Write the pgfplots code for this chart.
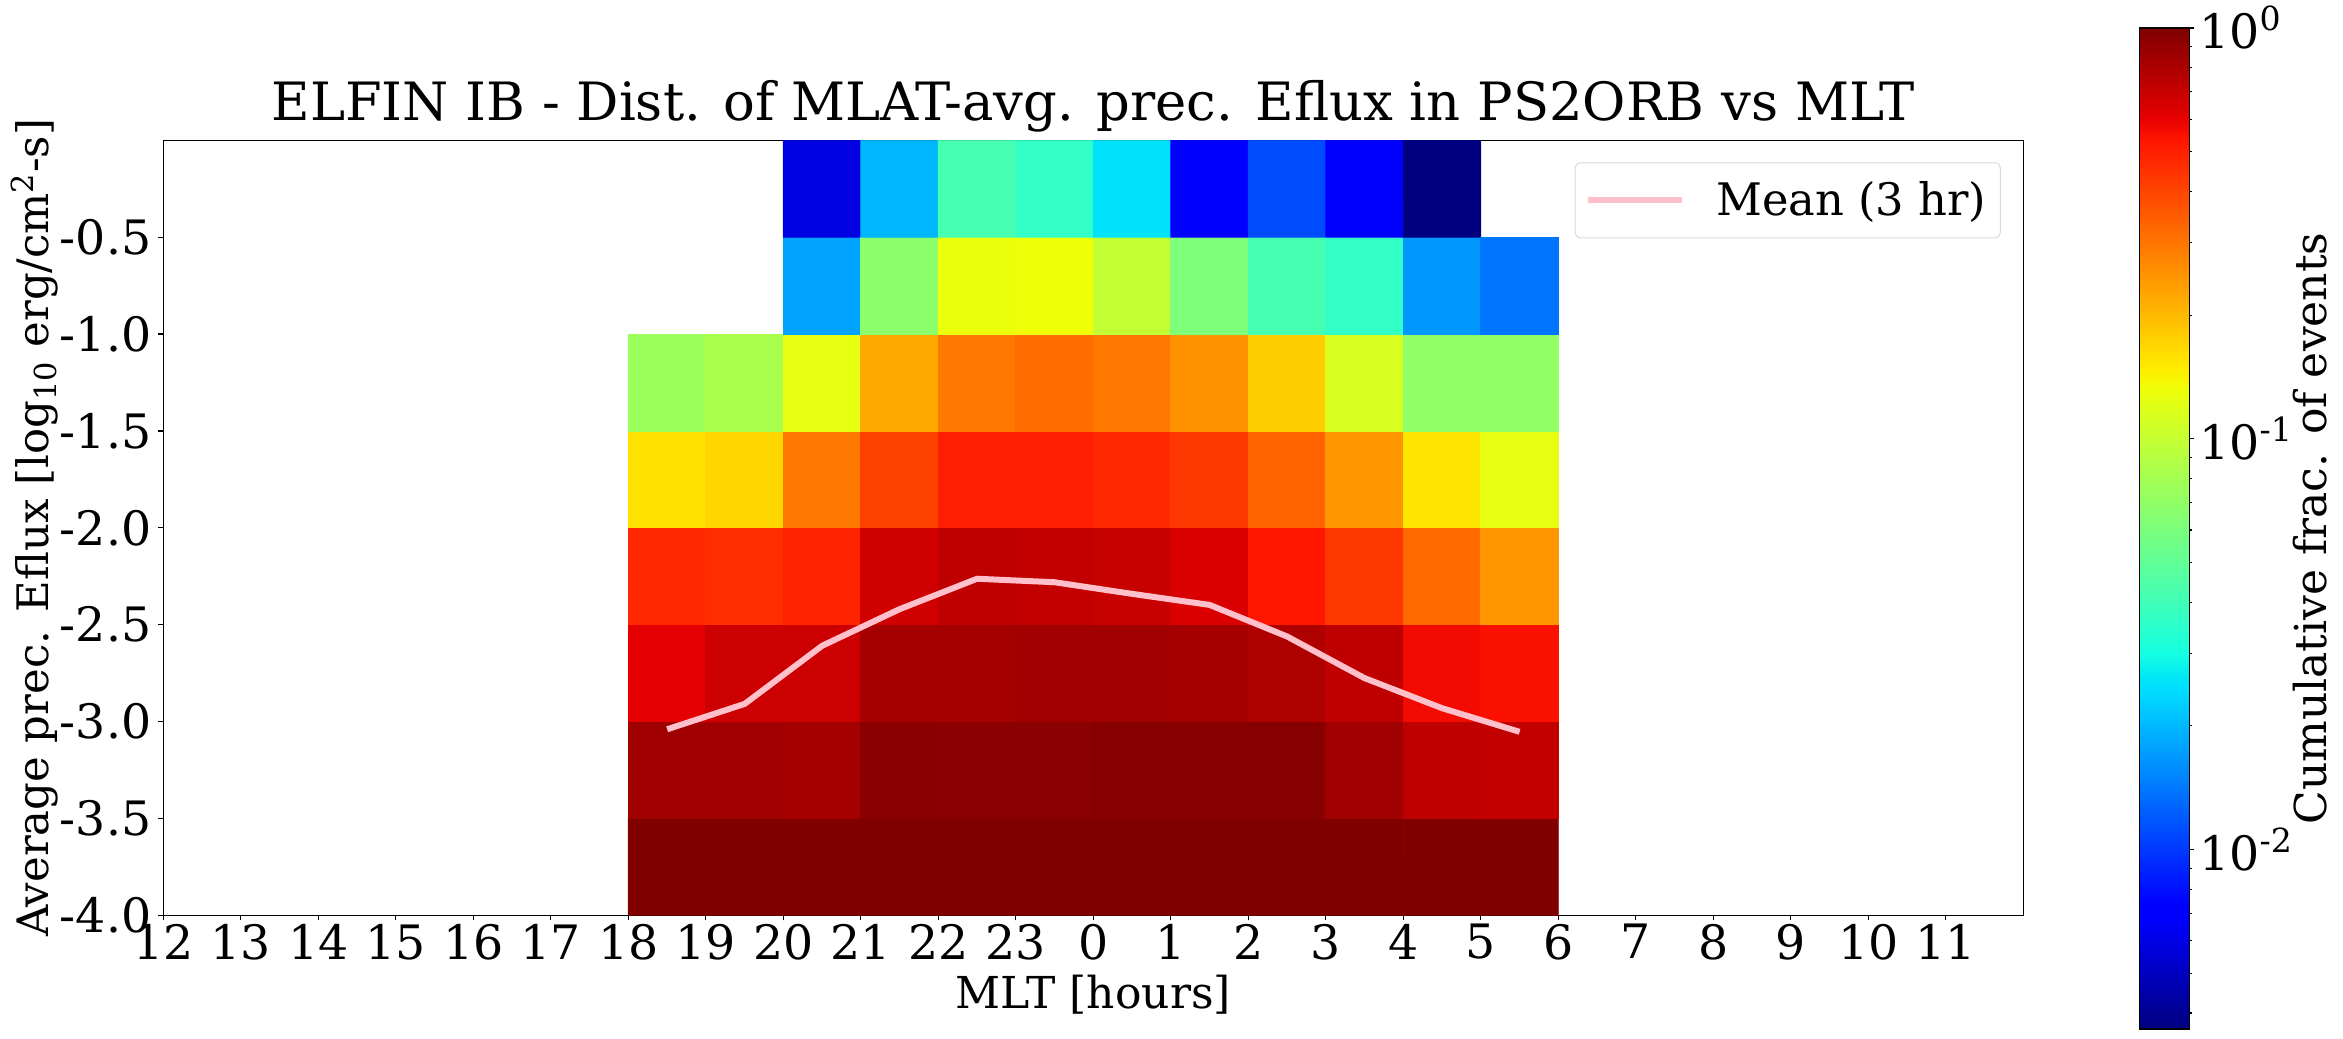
\documentclass[border=0pt]{standalone}
\usepackage{fontspec}
\usepackage{pgfplots}
\pgfplotsset{compat=1.18}
\setmainfont{DejaVu Serif}
\definecolor{meanline}{RGB}{255,192,203}
\newcommand{\fs}[1]{\fontsize{#1}{#1}\selectfont}
% matplotlib's jet
\pgfplotsset{colormap={mpljet}{
    rgb(0cm)=(0,0,0.5) rgb(11cm)=(0,0,1) rgb(12.5cm)=(0,0,1) rgb(34cm)=(0,0.875,1)
    rgb(35cm)=(0,0.9,0.968) rgb(37.5cm)=(0.081,1,0.887) rgb(64cm)=(0.935,1,0.032)
    rgb(65cm)=(0.968,0.963,0) rgb(66cm)=(1,0.926,0) rgb(89cm)=(1,0.074,0)
    rgb(91cm)=(0.905,0,0) rgb(100cm)=(0.5,0,0)}}

\begin{document}
\begin{tikzpicture}
    \path[use as bounding box] (0pt,0pt) rectangle (1171.5pt,519pt);
    \begin{axis}[
        at={(81.7pt,61.35pt)},
        anchor=south west,
        scale only axis,
        width=929.95pt,
        height=387.5pt,
        xmin=0, xmax=24,
        ymin=-4, ymax=0,
        xtick={0,...,23},
        xticklabels={12,13,14,15,16,17,18,19,20,21,22,23,0,1,2,3,4,5,6,7,8,9,10,11},
        ytick={-4,-3.5,-3,-2.5,-2,-1.5,-1,-0.5},
        yticklabels={-4.0,-3.5,-3.0,-2.5,-2.0,-1.5,-1.0,-0.5},
        tick align=outside,
        xtick pos=bottom,
        ytick pos=left,
        major tick length=2.5pt,
        axis line style={line width=0.75pt},
        tick style={line width=0.6pt,black},
        tick label style={font=\fs{23.7}},
        xticklabel style={yshift=1.5pt},
        title={ELFIN IB - Dist. of MLAT-avg. prec. Eflux in PS2ORB vs MLT},
        title style={font=\fs{26.4},at={(axis description cs:0.5,1.029)},anchor=center},
        xlabel={MLT [hours]},
        xlabel style={font=\fs{22},at={(axis description cs:0.5,-0.103)},anchor=center},
        ylabel={Average prec. Eflux [log\textsubscript{10} erg/cm\textsuperscript{2}-s]},
        ylabel style={font=\fs{21.7},at={(axis description cs:-0.0695,0.5)},anchor=center},
        legend style={at={(rel axis cs:0.9879,0.9716)},anchor=north east,draw=black!15,rounded corners=2.5pt,
            font=\fs{22.4},inner xsep=5pt,inner ysep=7.5pt,line width=0.5pt},
        legend cell align=left,
        legend image code/.code={
            \path[draw=none] (0pt,0pt) -- (62pt,0pt);
            \draw[meanline,line width=3pt] (0pt,0pt) -- (46.7pt,0pt);},
        colormap name=mpljet,
        point meta min=-2.437,
        point meta max=0,
        colorbar,
        colorbar shift/.style={xshift=0pt},
        colorbar/width=25pt,
        colorbar style={
            at={(parent axis.north east)},
            anchor=north west,
            xshift=58pt,
            yshift=56.15pt,
            scale only axis,
            height=500.5pt,
            ytick={-2,-1,0},
            yticklabels={10\textsuperscript{-2},10\textsuperscript{-1},10\textsuperscript{0}},
            minor ytick={-2.398,-2.301,-2.222,-2.155,-2.097,-2.046,
                -1.699,-1.523,-1.398,-1.301,-1.222,-1.155,-1.097,-1.046,
                -0.699,-0.523,-0.398,-0.301,-0.222,-0.155,-0.097,-0.046},
            yticklabel pos=right,
            ytick pos=right,
            tick align=outside,
            major tick length=2.5pt,
            minor tick length=1.5pt,
            tick style={line width=0.6pt,black},
            axis line style={line width=0.6pt},
            tick label style={font=\fs{23.7}},
            yticklabel style={xshift=-1pt},
            ylabel={Cumulative frac. of events},
            ylabel style={font=\fs{22},at={(axis description cs:3.42,0.5)},anchor=center},
        },
    ]
        % cumulative fraction per cell, nan where empty
        \addplot[matrix plot*,mesh/cols=12,point meta={log10(\thisrow{f})},forget plot,unbounded coords=jump] table {
            x y f
            6.5 -3.75 1
            7.5 -3.75 1
            8.5 -3.75 1
            9.5 -3.75 1
            10.5 -3.75 1
            11.5 -3.75 1
            12.5 -3.75 1
            13.5 -3.75 1
            14.5 -3.75 1
            15.5 -3.75 1
            16.5 -3.75 1
            17.5 -3.75 1
            6.5 -3.25 .855
            7.5 -3.25 .855
            8.5 -3.25 .836
            9.5 -3.25 .951
            10.5 -3.25 .946
            11.5 -3.25 .946
            12.5 -3.25 .966
            13.5 -3.25 .966
            14.5 -3.25 .966
            15.5 -3.25 .855
            16.5 -3.25 .738
            17.5 -3.25 .723
            6.5 -2.75 .611
            7.5 -2.75 .687
            8.5 -2.75 .687
            9.5 -2.75 .836
            10.5 -2.75 .836
            11.5 -2.75 .855
            12.5 -2.75 .855
            13.5 -2.75 .836
            14.5 -2.75 .794
            15.5 -2.75 .738
            16.5 -2.75 .570
            17.5 -2.75 .546
            6.5 -2.25 .477
            7.5 -2.25 .461
            8.5 -2.25 .491
            9.5 -2.25 .671
            10.5 -2.25 .738
            11.5 -2.25 .723
            12.5 -2.25 .705
            13.5 -2.25 .638
            14.5 -2.25 .527
            15.5 -2.25 .436
            16.5 -2.25 .324
            17.5 -2.25 .247
            6.5 -1.75 .159
            7.5 -1.75 .168
            8.5 -1.75 .296
            9.5 -1.75 .410
            10.5 -1.75 .505
            11.5 -1.75 .505
            12.5 -1.75 .477
            13.5 -1.75 .436
            14.5 -1.75 .333
            15.5 -1.75 .247
            16.5 -1.75 .154
            17.5 -1.75 .125
            6.5 -1.25 .0748
            7.5 -1.25 .0833
            8.5 -1.25 .125
            9.5 -1.25 .220
            10.5 -1.25 .296
            11.5 -1.25 .315
            12.5 -1.25 .296
            13.5 -1.25 .254
            14.5 -1.25 .179
            15.5 -1.25 .113
            16.5 -1.25 .0700
            17.5 -1.25 .0700
            6.5 -0.75 nan
            7.5 -0.75 nan
            8.5 -0.75 .0178
            9.5 -0.75 .0677
            10.5 -0.75 .130
            11.5 -0.75 .133
            12.5 -0.75 .0986
            13.5 -0.75 .0612
            14.5 -0.75 .0420
            15.5 -0.75 .0367
            16.5 -0.75 .0168
            17.5 -0.75 .0139
            6.5 -0.25 nan
            7.5 -0.25 nan
            8.5 -0.25 .00586
            9.5 -0.25 .0197
            10.5 -0.25 .0420
            11.5 -0.25 .0367
            12.5 -0.25 .0253
            13.5 -0.25 .00717
            14.5 -0.25 .0112
            15.5 -0.25 .00737
            16.5 -0.25 .00366
            17.5 -0.25 nan
        };
        \addplot[meanline,line width=3pt] coordinates {
            (6.5,-3.040) (7.5,-2.909) (8.5,-2.609) (9.5,-2.420)
            (10.5,-2.263) (11.5,-2.281) (12.5,-2.341) (13.5,-2.398)
            (14.5,-2.561) (15.5,-2.776) (16.5,-2.931) (17.5,-3.053)
        };
        \addlegendentry{Mean (3 hr)}
    \end{axis}
\end{tikzpicture}
\end{document}
